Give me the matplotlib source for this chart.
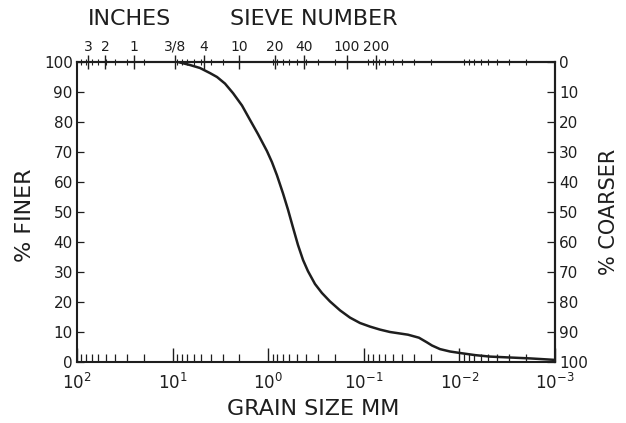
import matplotlib
matplotlib.use('Agg')
import matplotlib.pyplot as plt
from matplotlib.ticker import FixedLocator, LogLocator, NullFormatter

# grain size curve (mm, % finer)
grain_mm = [8.78, 6.58, 5.17, 4.06, 3.43, 2.83, 2.33, 1.88, 1.55, 1.28, 1.03,
            0.913, 0.809, 0.700, 0.621, 0.550, 0.488, 0.432, 0.384, 0.324,
            0.274, 0.226, 0.177, 0.1395, 0.1096, 0.0861, 0.0677, 0.0532,
            0.0418, 0.0345, 0.0265, 0.0220, 0.01935, 0.01596, 0.01254, 0.00986,
            0.00687, 0.00479, 0.00296, 0.00183, 0.001]
pct_finer = [100, 99, 98, 96.3, 95, 92.8, 89.6, 85.5, 80.7, 76.0, 70.3,
             66.6, 62.2, 56.2, 50.8, 44.8, 39, 34, 30.3, 26,
             23, 20.2, 17.2, 14.8, 13, 11.8, 10.8, 10,
             9.5, 9.1, 8.1, 6.6, 5.5, 4.3, 3.5, 3.0,
             2.3, 1.8, 1.5, 1.2, 0.7]

decades = [1e2, 1e1, 1e0, 1e-1, 1e-2, 1e-3]
decade_labels = [r'$\mathregular{10^{2}}$', r'$\mathregular{10^{1}}$',
                 r'$\mathregular{10^{0}}$', r'$\mathregular{10^{-1}}$',
                 r'$\mathregular{10^{-2}}$', r'$\mathregular{10^{-3}}$']
sieve_mm = [76.2, 50.8, 25.4, 9.525, 4.75, 2.0, 0.85, 0.425, 0.15, 0.075]
sieve_labels = ['3', '2', '1', '3/8', '4', '10', '20', '40', '100', '200']
pct_ticks = list(range(0, 101, 10))

ink = '#1e1e1e'
plt.rcParams['font.family'] = ['DejaVu Sans']

fig = plt.figure(figsize=(6.26, 4.23), dpi=100)
ax = fig.add_axes([77 / 626, 1 - 362 / 423, 478 / 626, 300 / 423])

ax.plot(grain_mm, pct_finer, color=ink, lw=1.8)
ax.set_xscale('log')
ax.set_xlim(100, 1e-3)
ax.set_ylim(0, 100)

ax.xaxis.set_major_locator(FixedLocator(decades))
ax.set_xticklabels(decade_labels)
ax.xaxis.set_minor_locator(LogLocator(base=10, subs=range(2, 10), numticks=20))
ax.xaxis.set_minor_formatter(NullFormatter())
ax.tick_params(axis='x', which='major', direction='in', length=10, width=1,
               pad=8, labelsize=12, colors=ink, top=False)
ax.tick_params(axis='x', which='minor', direction='in', length=6, width=0.9,
               colors=ink, top=False)
ax.set_yticks(pct_ticks)
ax.tick_params(axis='y', direction='in', length=5, width=0.9, pad=3,
               labelsize=11, colors=ink, right=False)

for sp in ax.spines.values():
    sp.set_linewidth(1.5)
    sp.set_color(ink)

top = ax.secondary_xaxis('top')
top.xaxis.set_major_locator(FixedLocator(sieve_mm))
top.set_xticklabels(sieve_labels)
top.xaxis.set_minor_locator(LogLocator(base=10, subs=range(2, 10), numticks=20))
top.xaxis.set_minor_formatter(NullFormatter())
top.tick_params(axis='x', which='major', direction='inout', length=10, width=1,
                pad=1, labelsize=10, colors=ink)
top.tick_params(axis='x', which='minor', direction='inout', length=5, width=0.8,
                colors=ink)
top.spines['top'].set_linewidth(1.5)
top.spines['top'].set_color(ink)

right = ax.secondary_yaxis('right', functions=(lambda y: 100 - y, lambda y: 100 - y))
right.set_yticks(pct_ticks)
right.tick_params(axis='y', direction='in', length=6, width=0.9, pad=3,
                  labelsize=11, colors=ink)
right.spines['right'].set_linewidth(1.5)
right.spines['right'].set_color(ink)

fig.text(129 / 626, 1 - 19 / 423, 'INCHES', ha='center', va='center',
         fontsize=16, color=ink)
fig.text(314 / 626, 1 - 19 / 423, 'SIEVE NUMBER', ha='center', va='center',
         fontsize=16, color=ink)
fig.text(25 / 626, 1 - 215 / 423, '% FINER', ha='center', va='center',
         rotation=90, fontsize=16, color=ink)
fig.text(609 / 626, 1 - 212 / 423, '% COARSER', ha='center', va='center',
         rotation=90, fontsize=15, color=ink)
fig.text(313 / 626, 1 - 409 / 423, 'GRAIN SIZE MM', ha='center', va='center',
         fontsize=16, color=ink)

fig.savefig('out.png', dpi=100)
